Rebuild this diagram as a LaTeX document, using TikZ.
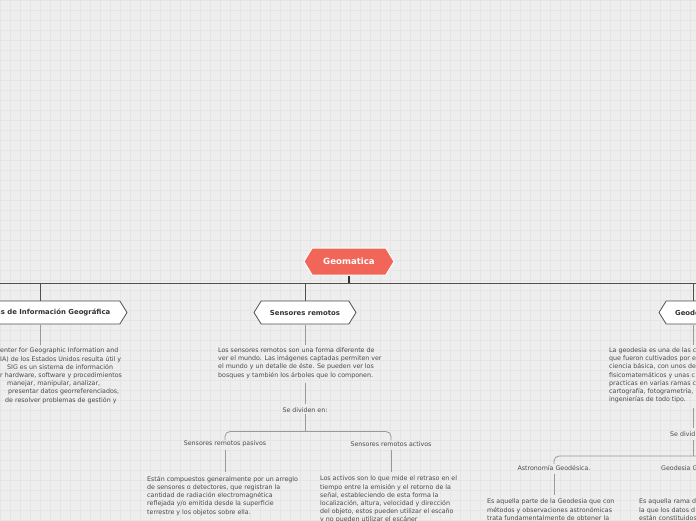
\documentclass[tikz,border=0pt]{standalone}
\usepackage{fontspec}
\setmainfont{DejaVu Sans}
\usetikzlibrary{shapes.symbols}
\definecolor{bgc}{HTML}{EEEEEE}
\definecolor{gridc}{HTML}{E5E5E5}
\definecolor{rootc}{HTML}{F2665A}
\definecolor{txtc}{HTML}{4A4A4A}
\definecolor{linec}{HTML}{505050}
\definecolor{subc}{HTML}{9A9A9A}
\begin{document}
\begin{tikzpicture}[x=1pt,y=-1pt,
 hexroot/.style={signal, signal to=east and west, signal pointer angle=118, fill=rootc, draw=white, line width=1pt, minimum height=27pt, minimum width=90pt, text=white, font=\fontsize{8.6}{9}\selectfont\bfseries, inner sep=0pt},
 hexbox/.style={signal, signal to=east and west, signal pointer angle=116, fill=white, draw=linec, line width=0.8pt, minimum height=23pt, text=black!80, font=\fontsize{6.9}{8}\selectfont\bfseries, inner sep=0pt},
 desc/.style={font=\fontsize{6.3}{8.2}\selectfont, text=txtc, align=left, inner sep=0pt, anchor=north west},
 lab/.style={font=\fontsize{6.3}{8}\selectfont, text=txtc, inner sep=1pt},
 bus/.style={draw=linec, line width=0.8pt},
 sub/.style={draw=subc, line width=0.8pt},
 brk/.style={draw=subc, line width=0.8pt, rounded corners=5pt}]
\useasboundingbox (0,0) rectangle (696,520);
\fill[bgc] (0,0) rectangle (696,520);
\draw[gridc, line width=0.4pt, step=10pt] (0,0) grid (696,520);

% root and bus
\node[hexroot] (geo) at (349,261.5) {Geomatica};
\coordinate (bus) at (349,283);
\coordinate (busL) at (-2,283);
\coordinate (busR) at (698,283);
\draw[bus] (busL) -- (busR);
\draw[draw=black!80, line width=2pt] (geo.south) -- (bus);

% level 1
\node[hexbox, minimum width=174pt] (sig) at (40,312.5) {Sistemas de Información Geográfica};
\node[hexbox, minimum width=102pt] (sen) at (305,312.5) {Sensores remotos};
\node[hexbox, minimum width=68pt] (gds) at (693,312.5) {Geodesia};
\draw[bus] (sig.north |- bus) -- (sig.north);
\draw[bus] (sen.north |- bus) -- (sen.north);
\draw[bus] (gds.north |- bus) -- (gds.north);

% SIG description
\node[desc] (sigd) at (0,348) {enter for Geographic Information and\\
IA) de los Estados Unidos resulta útil y\\
\hspace{7pt}SIG es un sistema de información\\
r hardware, software y procedimientos\\
\hspace{7pt}manejar, manipular, analizar,\\
\hspace{8pt}presentar datos georreferenciados,\\
\hspace{5pt}de resolver problemas de gestión y};
\draw[sub, shorten <=1pt, shorten >=3pt] (sig.south) -- (sig.south |- sigd.north);

% Sensores remotos
\node[desc] (send) at (218,347.5) {Los sensores remotos son una forma diferente de\\
ver el mundo. Las imágenes captadas permiten ver\\
el mundo y un detalle de éste. Se pueden ver los\\
bosques y también los árboles que lo componen.};
\draw[sub, shorten <=1pt, shorten >=3pt] (sen.south) -- (sen.south |- send.north);
\node[lab] (sdiv) at (305,410) {Se dividen en:};
\draw[sub, shorten <=4pt, shorten >=2pt] (sen.south |- send.south) -- (sdiv.north);
\coordinate (br1) at (305,431.5);
\node[lab] (pas) at (225,444) {Sensores remotos pasivos};
\node[lab] (act) at (391,444) {Sensores remotos activos};
\draw[sub] (sdiv.south) -- (br1);
\draw[brk] (pas.north) -- (pas.north |- br1) -- (act.north |- br1) -- (act.north);
\node[desc] (pasd) at (147,476) {Están compuestos generalmente por un arreglo\\
de sensores o detectores, que registran la\\
cantidad de radiación electromagnética\\
reflejada y/o emitida desde la superficie\\
terrestre y los objetos sobre ella.};
\node[desc] (actd) at (320,476) {Los activos son lo que mide el retraso en el\\
tiempo entre la emisión y el retorno de la\\
señal, estableciendo de esta forma la\\
localización, altura, velocidad y dirección\\
del objeto, estos pueden utilizar el escaño\\
y no pueden utilizar el escáner};
\draw[sub, shorten <=2pt, shorten >=4pt] (pas.south) -- (pas.south |- pasd.north);
\draw[sub, shorten <=2pt, shorten >=4pt] (act.south) -- (act.south |- actd.north);

% Geodesia
\node[desc] (gdsd) at (609,347.5) {La geodesia es una de las c\\
que fueron cultivados por e\\
ciencia básica, con unos de\\
fisicomatemáticos y unas c\\
practicas en varias ramas c\\
cartografía, fotogrametría,\\
ingenierías de todo tipo.};
\draw[sub, shorten <=1pt, shorten >=3pt] (gds.south) -- (gds.south |- gdsd.north);
\node[lab, anchor=west] (gdiv) at (669,434) {Se divid};
\draw[sub, shorten <=5pt] (gds.south |- gdsd.south) -- (693,428);
\coordinate (br2) at (693,456);
\draw[sub] (693,440) -- (br2);
\node[lab] (ast) at (554,468) {Astronomía Geodésica.};
\node[lab, anchor=west] (ggeo) at (660,468) {Geodesia G};
\coordinate (br2R) at (700,456);
\draw[brk] (ast.north) -- (ast.north |- br2) -- (br2R);
\node[desc] (astd) at (487,499) {Es aquella parte de la Geodesia que con\\
métodos y observaciones astronómicas\\
trata fundamentalmente de obtener la};
\node[desc] (ggeod) at (639,499) {Es aquella rama d\\
la que los datos d\\
están constituidos};
\draw[sub, shorten <=2pt, shorten >=4pt] (ast.south) -- (ast.south |- astd.north);
\end{tikzpicture}
\end{document}
